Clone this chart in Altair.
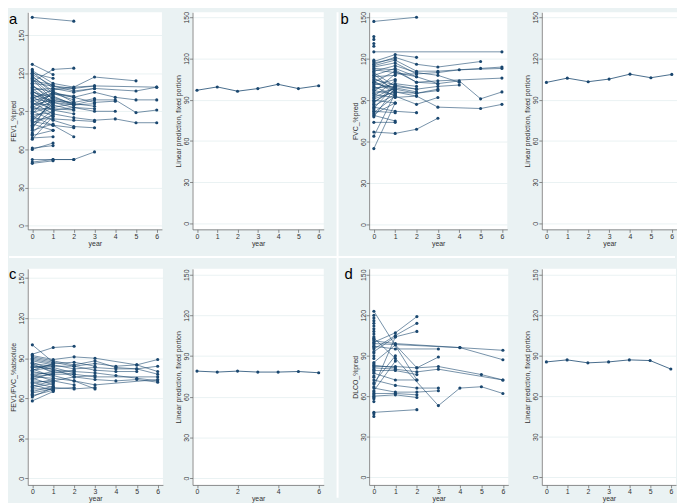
import altair as alt
import pandas as pd

NAVY = "#1a476f"
BG = "#eaf2f3"
FONT = "Liberation Sans"

years = [0, 1, 2, 3, 4, 5, 6]
y_ticks = [0, 30, 60, 90, 120, 150]

# panel a: FEV1 %pred trajectories (year, value)
fev1_traj = [
    [(0, 164), (2, 161)], [(0, 113), (1, 123), (2, 124)], [(0, 127), (1, 119)],
    [(0, 122), (1, 112), (2, 109), (3, 117), (5, 114)], [(0, 121), (1, 108), (3, 110), (6, 109)],
    [(0, 119), (1, 110), (2, 106), (3, 108), (5, 106), (6, 109)],
    [(0, 118), (1, 104), (2, 101), (3, 105), (4, 101), (5, 99), (6, 99)],
    [(0, 117), (1, 106), (2, 97)],
    [(0, 116), (1, 102), (2, 95), (3, 99), (4, 99), (5, 89), (6, 91)],
    [(0, 115), (1, 99)], [(0, 112), (1, 110), (2, 108)], [(0, 111), (1, 97), (2, 93), (3, 92)],
    [(0, 110), (1, 100), (2, 96)], [(0, 109), (1, 105), (2, 101), (3, 97), (4, 98)],
    [(0, 108), (1, 96)], [(0, 107), (1, 108), (2, 105), (3, 108)], [(0, 106), (1, 95), (2, 91)],
    [(0, 105), (1, 101), (2, 96), (3, 94)], [(0, 104), (1, 93)], [(0, 103), (1, 98), (2, 97), (3, 100)],
    [(0, 102), (1, 90)], [(0, 101), (1, 104), (2, 99)], [(0, 100), (1, 97)],
    [(0, 99), (1, 91), (2, 93), (3, 90), (4, 90)], [(0, 98), (1, 103)],
    [(0, 97), (1, 88), (2, 85), (3, 83), (4, 84), (5, 81), (6, 81)],
    [(0, 96), (1, 95)], [(0, 95), (1, 99), (2, 95)], [(0, 94), (1, 86)], [(0, 93), (1, 101)],
    [(0, 92), (1, 92), (2, 91)], [(0, 91), (1, 98)], [(0, 90), (1, 83), (2, 78), (3, 77)],
    [(0, 89), (1, 94)], [(0, 88), (1, 106)], [(0, 87), (1, 89)], [(0, 86), (1, 79), (2, 70)],
    [(0, 85), (1, 93), (2, 96)], [(0, 84), (1, 84), (2, 83), (3, 82)], [(0, 83), (1, 96)],
    [(0, 82), (1, 79), (2, 77)], [(0, 81), (1, 87)], [(0, 80), (1, 75)], [(0, 79), (1, 99)],
    [(0, 78), (1, 91), (2, 88)], [(0, 76), (1, 102)], [(0, 75), (1, 80)], [(0, 73), (1, 88)],
    [(0, 71), (1, 75)], [(0, 69), (1, 70)], [(0, 68), (1, 86)], [(0, 61), (1, 63)], [(0, 60), (1, 65)],
    [(0, 52), (1, 52), (2, 52), (3, 58)], [(0, 50), (1, 52), (2, 52)], [(0, 49), (1, 51)],
    [(0, 120), (1, 116)], [(0, 114), (1, 111)], [(0, 100), (1, 107), (2, 108), (3, 110)],
    [(0, 95), (1, 104), (2, 102)], [(0, 106), (1, 97), (2, 95), (3, 96)],
    [(0, 123)], [(0, 120)], [(0, 117)], [(0, 112)], [(0, 104)], [(0, 99)], [(0, 93)],
    [(0, 88)], [(0, 84)], [(0, 77)], [(0, 72)],
]

# panel b: FVC %pred trajectories
fvc_traj = [
    [(0, 147), (2, 150)], [(0, 125), (6, 125)], [(0, 136)], [(0, 134)], [(0, 131)], [(0, 129)],
    [(0, 118), (1, 123), (2, 121)], [(0, 116), (1, 121), (2, 116), (3, 114), (5, 118)],
    [(0, 115), (1, 119), (2, 111), (3, 111), (5, 113), (6, 114)],
    [(0, 114), (1, 117), (2, 109), (3, 110), (4, 112), (6, 113)],
    [(0, 113), (1, 112), (2, 103), (3, 104), (6, 106)],
    [(0, 112), (1, 110), (2, 107), (3, 102), (4, 104), (5, 91), (6, 96)],
    [(0, 111), (1, 115), (2, 110), (3, 108), (4, 103)],
    [(0, 110), (1, 100), (2, 98), (3, 100), (4, 101)],
    [(0, 109), (1, 96), (2, 93), (3, 85), (5, 84), (6, 87)],
    [(0, 108), (1, 113), (2, 107)], [(0, 107), (1, 108)], [(0, 106), (1, 98), (2, 95), (3, 97)],
    [(0, 105), (1, 101), (2, 98)], [(0, 104), (1, 95)], [(0, 103), (1, 111), (2, 103), (3, 102)],
    [(0, 102), (1, 99), (2, 96)], [(0, 101), (1, 105)], [(0, 100), (1, 93), (2, 87), (3, 92)],
    [(0, 99), (1, 100)], [(0, 98), (1, 102), (2, 100)], [(0, 97), (1, 94)], [(0, 96), (1, 109), (2, 109)],
    [(0, 95), (1, 98)], [(0, 94), (1, 92), (2, 93)], [(0, 93), (1, 104)], [(0, 92), (1, 99)],
    [(0, 91), (1, 96), (2, 95), (3, 98)], [(0, 90), (1, 88)], [(0, 89), (1, 97)], [(0, 88), (1, 100)],
    [(0, 86), (1, 94)], [(0, 85), (1, 82), (2, 81)], [(0, 84), (1, 101)], [(0, 82), (1, 81)],
    [(0, 81), (1, 93)], [(0, 80), (1, 88)], [(0, 79), (1, 75)], [(0, 78), (1, 99)], [(0, 74), (1, 74)],
    [(0, 67), (1, 66), (2, 69), (3, 77)], [(0, 64), (1, 95)], [(0, 55), (1, 88)],
    [(0, 117), (1, 120)], [(0, 103), (1, 97)], [(0, 119)], [(0, 87)], [(0, 83)],
]

# panel c: FEV1/FVC %absolute trajectories
ratio_traj = [
    [(0, 93), (1, 98), (2, 99)], [(0, 100), (1, 87)],
    [(0, 92), (1, 89), (2, 91), (3, 90), (5, 85), (6, 89)],
    [(0, 91), (1, 88), (2, 85), (3, 88), (4, 83), (5, 82), (6, 84)],
    [(0, 90), (1, 87), (2, 84), (3, 86), (4, 84), (5, 85), (6, 80)],
    [(0, 89), (1, 86)], [(0, 88), (1, 85), (2, 82), (3, 83), (4, 82), (5, 82), (6, 78)],
    [(0, 87), (1, 81), (2, 80), (3, 79), (4, 77), (5, 75), (6, 73)],
    [(0, 86), (1, 84)], [(0, 85), (1, 80), (2, 78)],
    [(0, 84), (1, 82), (2, 76), (3, 74), (4, 73), (5, 74), (6, 72)],
    [(0, 83), (1, 85)], [(0, 82), (1, 76)], [(0, 81), (1, 83), (2, 79)],
    [(0, 80), (1, 77), (2, 73), (3, 70), (6, 74)], [(0, 79), (1, 78)], [(0, 78), (1, 73), (2, 70)],
    [(0, 77), (1, 80)], [(0, 76), (1, 75), (2, 73), (3, 67)], [(0, 75), (1, 70)],
    [(0, 74), (1, 79), (2, 81)], [(0, 73), (1, 72)], [(0, 72), (1, 68), (2, 67), (3, 68)],
    [(0, 71), (1, 74)], [(0, 70), (1, 66)], [(0, 69), (1, 73), (2, 76), (3, 77)], [(0, 68), (1, 71)],
    [(0, 67), (1, 67), (2, 68)], [(0, 65), (1, 69)], [(0, 64), (1, 67)], [(0, 62), (1, 66)],
    [(0, 61), (1, 68)], [(0, 58), (1, 65)], [(0, 81), (1, 86), (2, 87), (3, 84)],
    [(0, 83), (1, 84), (2, 84), (3, 81), (4, 80), (5, 80)], [(0, 86), (1, 79)],
    [(0, 76), (1, 78), (2, 78), (3, 76), (6, 76)], [(0, 66)], [(0, 63)],
]

# panel d: DLCO %pred trajectories
dlco_traj = [
    [(0, 123), (2, 72)], [(0, 100), (1, 107), (2, 119)], [(0, 95), (1, 105), (2, 114)],
    [(0, 93), (1, 104), (2, 108)], [(0, 99), (4, 96), (6, 94)], [(0, 97), (1, 95), (3, 95)],
    [(0, 85), (1, 98), (2, 81), (3, 89)], [(0, 101), (1, 99), (4, 96), (6, 87)],
    [(0, 82), (1, 82), (2, 81), (3, 82), (5, 76), (6, 72)], [(0, 81), (1, 80), (2, 78), (3, 80), (6, 72)],
    [(0, 79), (1, 79), (2, 76)], [(0, 77), (1, 72), (2, 72)], [(0, 72), (1, 68), (2, 66), (3, 66)],
    [(0, 66), (1, 63), (2, 63), (3, 64)], [(0, 62), (1, 62), (2, 61)], [(0, 60), (1, 61), (2, 59)],
    [(0, 48), (2, 50)], [(0, 103), (1, 88), (3, 53), (4, 66), (5, 67), (6, 62)],
    [(0, 70), (1, 90)], [(0, 67), (1, 104)], [(0, 64), (1, 86)], [(0, 83), (1, 81)],
    [(0, 120)], [(0, 118)], [(0, 116)], [(0, 114)], [(0, 112)], [(0, 110)], [(0, 108)], [(0, 106)],
    [(0, 104)], [(0, 102)], [(0, 98)], [(0, 96)], [(0, 92)], [(0, 90)], [(0, 88)], [(0, 84)],
    [(0, 80)], [(0, 78)], [(0, 75)], [(0, 74)], [(0, 69)], [(0, 63)], [(0, 61)], [(0, 59)],
    [(0, 58)], [(0, 56)], [(0, 47)], [(0, 45)],
]

# fixed-portion linear predictions by year
fev1_pred = [96.9, 99.3, 96.2, 98.1, 101.2, 98.1, 100.2]
fvc_pred = [102.6, 105.7, 103.1, 105.0, 108.6, 106.0, 108.4]
ratio_pred = [78.9, 78.2, 78.9, 78.2, 78.2, 78.6, 77.7]
dlco_pred = [85.4, 86.9, 84.7, 85.4, 86.9, 86.4, 80.1]


def traj_frame(trajs):
    rows = []
    for i, t in enumerate(trajs):
        for yr, v in t:
            rows.append({"id": i, "year": yr, "value": v})
    return pd.DataFrame(rows)


def encodings(ytitle, ydomain, xvals):
    x = alt.X("year:Q", title="year",
              scale=alt.Scale(domain=[-0.22, 6.25], nice=False, zero=False),
              axis=alt.Axis(values=xvals, format="d", grid=False, tickSize=3,
                            labelPadding=0, titlePadding=0, labelFlush=False,
                            labelOverlap=False))
    y = alt.Y("value:Q", title=ytitle,
              scale=alt.Scale(domain=ydomain, nice=False, zero=False),
              axis=alt.Axis(values=y_ticks, format="d", grid=True, gridColor=BG,
                            gridWidth=1, tickSize=3, labelAngle=-90, labelAlign="center",
                            labelBaseline="alphabetic", labelPadding=1, titlePadding=1,
                            labelOverlap=False, labelFlush=False))
    return x, y


def spaghetti(trajs, ytitle, ydomain, w, h, extras=()):
    df = traj_frame(trajs)
    x, y = encodings(ytitle, ydomain, years)
    base = alt.Chart(df).encode(x=x, y=y)
    lines = base.mark_line(color=NAVY, strokeWidth=0.6).encode(detail="id:N")
    pts = base.mark_circle(color=NAVY, size=10, opacity=1)
    return alt.layer(lines, pts, *extras).properties(width=w, height=h)


def prediction(vals, ydomain, xvals, w, h):
    df = pd.DataFrame({"year": years, "value": vals})
    x, y = encodings("Linear prediction, fixed portion", ydomain, xvals)
    base = alt.Chart(df).encode(x=x, y=y)
    line = base.mark_line(color=NAVY, strokeWidth=0.8)
    pts = base.mark_circle(color=NAVY, size=10, opacity=1)
    return alt.layer(line, pts).properties(width=w, height=h)


def letter(ch, xoff, yoff, baseline):
    return alt.Chart(pd.DataFrame({"t": [ch]})).mark_text(
        fontSize=15, font=FONT, align="left", baseline=baseline, color="#000000"
    ).encode(text="t:N", x=alt.value(xoff), y=alt.value(yoff))


def spacer(w):
    return alt.Chart(pd.DataFrame({"s": [0]})).mark_rule(opacity=0).encode(
        x=alt.value(1), y=alt.value(2), y2=alt.value(4)
    ).properties(width=w, height=10,
                 view=alt.ViewBackground(fill="transparent", strokeWidth=0))


sep = pd.DataFrame({"s": [0]})
vsep = alt.Chart(sep).mark_rule(color="white", strokeWidth=2).encode(
    x=alt.value(314), y=alt.value(0), y2=alt.value(492))
hsep = alt.Chart(sep).mark_rule(color="white", strokeWidth=2).encode(
    x=alt.value(-19), x2=alt.value(656), y=alt.value(248))

aL = spaghetti(fev1_traj, "FEV1_%pred", [-3, 168], 136, 220,
               extras=(letter("a", -19, 0, "top"), vsep, hsep))
aR = prediction(fev1_pred, [-4.3, 153.6], years, 133, 220)
bL = spaghetti(fvc_traj, "FVC_%pred", [-3.4, 153.6], 140, 220,
               extras=(letter("b", -29, 0, "top"),))
bR = prediction(fvc_pred, [-4.3, 153.6], years, 137, 220)

cL = spaghetti(ratio_traj, "FEV1/FVC_%absolute", [-5, 157], 137, 219,
               extras=(letter("c", -19, 10, "alphabetic"),))
cR = prediction(ratio_pred, [-5.1, 154.4], [0, 2, 4, 6], 133, 219)
dL = spaghetti(dlco_traj, "DLCO_%pred", [-5.8, 154.4], 141, 219,
               extras=(letter("d", -25, 10, "alphabetic"),))
dR = prediction(dlco_pred, [-5.8, 154.4], years, 136, 219)

chart = alt.concat(
    aL, spacer(30), aR, spacer(46), bL, spacer(34), bR,
    cL, spacer(29), cR, spacer(45), dL, spacer(30), dR,
    columns=7, spacing={"row": 40, "column": 0}, bounds="flush", align="none",
).properties(
    padding=0, background=BG
).configure_view(
    fill="white", strokeWidth=0
).configure_axis(
    labelFont=FONT, titleFont=FONT, labelFontSize=7, titleFontSize=7,
    labelColor="#333333", titleColor="#333333", titleFontWeight="normal",
    domainColor="#6f6f6f", tickColor="#6f6f6f", domainWidth=0.8, tickWidth=0.8
)

chart.save("out.html", embed_options={"renderer": "svg", "actions": False})
